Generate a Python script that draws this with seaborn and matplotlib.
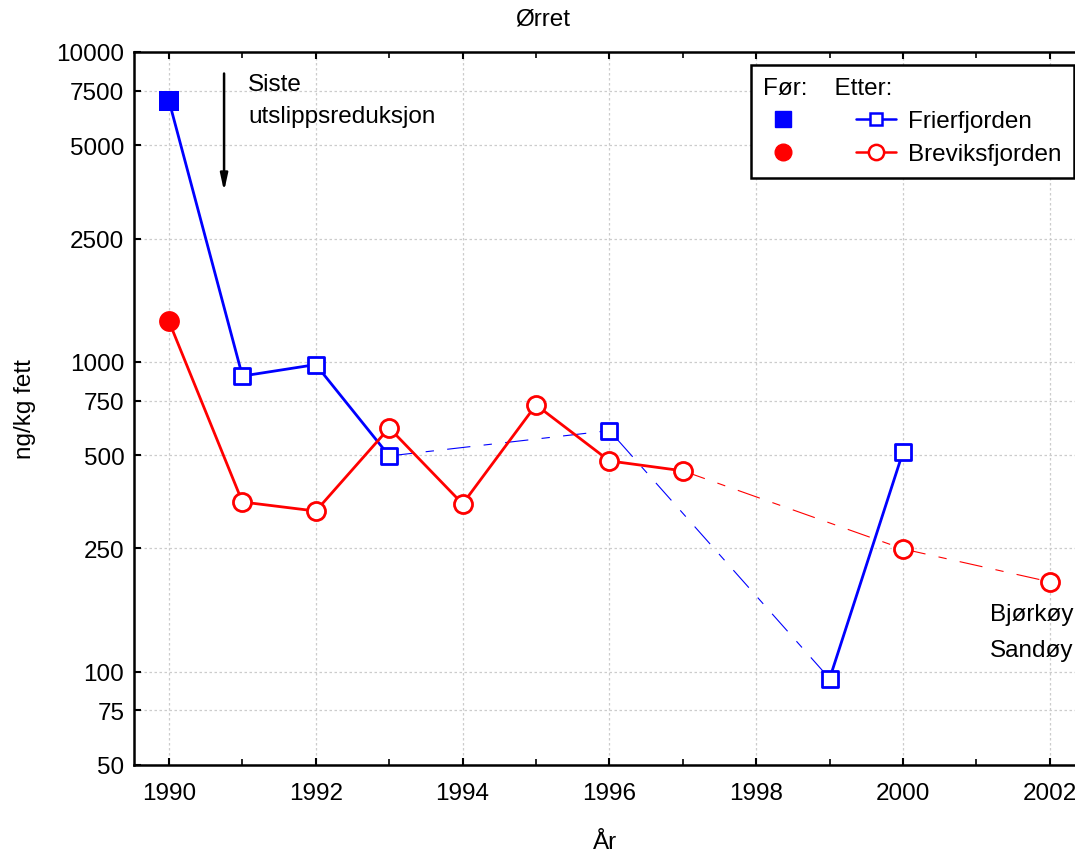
import numpy as np
import pandas as pd
import seaborn as sns
import matplotlib.pyplot as plt
from matplotlib.lines import Line2D
from matplotlib.legend_handler import HandlerTuple

# data (ng/kg fett)
fri_years = [1990, 1991, 1992, 1993, 1996, 1999, 2000]
fri_values = [6950, 900, 980, 497, 600, 95, 512]
fri_links = ["solid", "solid", "solid", "broken", "broken", "solid"]

bre_years = [1990, 1991, 1992, 1993, 1994, 1995, 1996, 1997, 2000, 2002]
bre_values = [1350, 353, 330, 612, 348, 726, 479, 445, 249, 195]
bre_links = ["solid"] * 7 + ["broken", "broken"]

y_ticks = [50, 75, 100, 250, 500, 750, 1000, 2500, 5000, 7500, 10000]
x_ticks = [1990, 1992, 1994, 1996, 1998, 2000, 2002]

BLUE = "#0000ff"
RED = "#ff0000"
BROKEN = (0, (21, 12, 7.5, 12))
FS = 17.5


def runs(links):
    # group neighbouring links of the same kind into one polyline
    out = []
    start = 0
    for i in range(1, len(links) + 1):
        if i == len(links) or links[i] != links[start]:
            out.append((start, i, links[start]))
            start = i
    return out


def draw_series(ax, years, values, links, color, marker, ms, filled_ms):
    years = np.array(years)
    values = np.array(values)
    for a, b, kind in runs(links):
        seg = pd.DataFrame({"year": years[a:b + 1], "value": values[a:b + 1]})
        if kind == "solid":
            sns.lineplot(data=seg, x="year", y="value", color=color, lw=2.0,
                         ls="-", ax=ax, zorder=3)
        else:
            sns.lineplot(data=seg, x="year", y="value", color=color, lw=0.8,
                         ls=BROKEN, ax=ax, zorder=3)
    # "Etter" points: open markers
    sns.scatterplot(x=years[1:], y=values[1:], marker=marker, s=ms ** 2,
                    facecolor="white", edgecolor=color, linewidth=2.0,
                    ax=ax, zorder=4)
    # "Før" point: filled marker
    sns.scatterplot(x=years[:1], y=values[:1], marker=marker, s=filled_ms ** 2,
                    color=color, edgecolor=color, linewidth=0, ax=ax, zorder=4)


sns.set_style("ticks", {"text.color": "black", "axes.labelcolor": "black",
                        "xtick.color": "black", "ytick.color": "black"})
plt.rcParams["font.family"] = ["Liberation Sans", "DejaVu Sans"]

fig = plt.figure(figsize=(10.75, 8.54), dpi=100)
ax = fig.add_axes([134 / 1075, 1 - 766 / 854, 943 / 1075, 713 / 854])

draw_series(ax, fri_years, fri_values, fri_links, BLUE, "s", 11, 15)
draw_series(ax, bre_years, bre_values, bre_links, RED, "o", 13, 15)

ax.set_yscale("log")
ax.set_ylim(50, 10000)
ax.set_xlim(1989.523, 2002.37)
ax.set_yticks(y_ticks)
ax.set_yticklabels([str(v) for v in y_ticks])
ax.yaxis.set_minor_locator(plt.NullLocator())
ax.set_xticks(x_ticks)
ax.set_xticks(range(1990, 2003), minor=True)
ax.tick_params(axis="both", which="major", direction="in", length=5, width=1.5,
               labelsize=FS, top=True)
ax.tick_params(axis="x", which="major", pad=12)
ax.tick_params(axis="y", which="major", pad=7)
ax.tick_params(axis="x", which="minor", direction="in", length=4, width=1.2,
               top=True)
ax.grid(True, which="major", color="#cccccc", ls=(0, (2, 2)), lw=0.9)

for side in ["left", "bottom", "top"]:
    ax.spines[side].set_linewidth(1.8)
    ax.spines[side].set_color("black")
ax.spines["right"].set_visible(False)

ax.set_xlabel("År", fontsize=FS)
ax.xaxis.set_label_coords(0.5, -0.093)
ax.set_ylabel("ng/kg fett", fontsize=FS)
ax.yaxis.set_label_coords(-0.104, 0.5)
fig.text(543 / 1075, 1 - 19 / 854, "Ørret", ha="center", va="center",
         fontsize=FS)

# annotation for the last emission cut
ax.annotate("", xy=(1990.75, 3480), xytext=(1990.75, 8700),
            arrowprops=dict(arrowstyle="-|>,head_length=1.0,head_width=0.22",
                            color="black", lw=1.8))
ax.text(1991.08, 8550, "Siste\nutslippsreduksjon", ha="left", va="top",
        fontsize=FS, linespacing=1.6)
ax.text(2001.19, 167, "Bjørkøy\nSandøy", ha="left", va="top",
        fontsize=FS, linespacing=1.85)

# legend: filled "Før" marker next to open "Etter" line marker
fri_before = Line2D([], [], ls="none", marker="s", ms=12, color=BLUE)
fri_after = Line2D([], [], color=BLUE, lw=1.8, marker="s", ms=9,
                   mfc="white", mec=BLUE, mew=1.8)
bre_before = Line2D([], [], ls="none", marker="o", ms=12, color=RED)
bre_after = Line2D([], [], color=RED, lw=1.8, marker="o", ms=11,
                   mfc="white", mec=RED, mew=1.8)
leg = ax.legend([(fri_before, fri_after), (bre_before, bre_after)],
                ["Frierfjorden", "Breviksfjorden"],
                handler_map={tuple: HandlerTuple(ndivide=None, pad=2.18)},
                title="Før:    Etter:", title_fontsize=FS, fontsize=FS,
                alignment="left", loc="upper right",
                bbox_to_anchor=(0.9968, 0.982), borderaxespad=0,
                handlelength=5.47, handletextpad=0.5, borderpad=0.5,
                labelspacing=0.46, fancybox=False, framealpha=1,
                edgecolor="black")
leg.get_frame().set_linewidth(1.8)

plt.savefig("out.png", dpi=100)
